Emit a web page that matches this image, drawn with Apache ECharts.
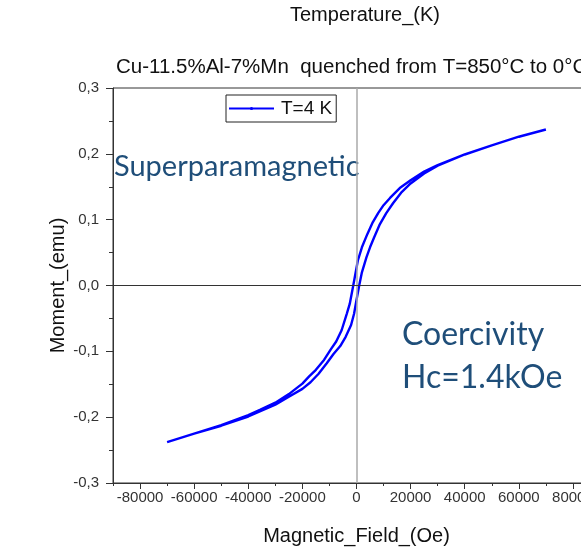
<!DOCTYPE html>
<html>
<head>
<meta charset="utf-8">
<script src="https://cdn.jsdelivr.net/npm/echarts@6/dist/echarts.min.js"></script>
<style>html,body{margin:0;padding:0;background:#fff;}#c{width:581px;height:547px;}</style>
</head>
<body>
<div id="c"></div>
<script>
// Descending branch (field from +70 kOe to -70 kOe)
const fieldDown  = [70000, 60000, 50000, 40000, 30000, 25000, 20000, 16000, 12400, 10000, 8000, 6000, 4000, 2000, 500, -1200, -2500, -3600, -5500, -7500, -9500, -12000, -15000, -17500, -20000, -25000, -30000, -35700, -40000, -50000, -60000, -70000];
const momentDown = [0.237, 0.226, 0.213, 0.199, 0.183, 0.173, 0.160, 0.148, 0.133, 0.122, 0.110, 0.096, 0.078, 0.058, 0.038, 0.0, -0.028, -0.043, -0.068, -0.085, -0.097, -0.113, -0.128, -0.138, -0.149, -0.165, -0.178, -0.189, -0.197, -0.212, -0.225, -0.238];
// Ascending branch (field from -70 kOe to +70 kOe)
const fieldUp  = [-70000, -60000, -50000, -40000, -30000, -25000, -20000, -17000, -14000, -11000, -8500, -6000, -4000, -2000, -900, 0, 1000, 2000, 3700, 5000, 6500, 8500, 11000, 13500, 16500, 20000, 25000, 30000, 40000, 50000, 60000, 70000];
const momentUp = [-0.238, -0.225, -0.213, -0.199, -0.181, -0.169, -0.157, -0.147, -0.134, -0.118, -0.104, -0.092, -0.078, -0.060, -0.043, -0.022, 0.0, 0.020, 0.043, 0.058, 0.073, 0.092, 0.110, 0.125, 0.141, 0.155, 0.170, 0.182, 0.199, 0.213, 0.226, 0.237];
const xTickLabels = [-80000, -60000, -40000, -20000, 0, 20000, 40000, 60000, 80000];
const seriesName = 'T=4 K';
const topTitle = 'Temperature_(K)';
const subTitle = 'Cu-11.5%Al-7%Mn  quenched from T=850°C to 0°C';
const xName = 'Magnetic_Field_(Oe)';
const yName = 'Moment_(emu)';
const note1 = 'Superparamagnetic';
const note2 = 'Coercivity';
const note3 = 'Hc=1.4kOe';

const loop = [];
fieldDown.forEach((f, i) => loop.push([f, momentDown[i]]));
fieldUp.forEach((f, i) => loop.push([f, momentUp[i]]));

const chart = echarts.init(document.getElementById('c'), null, {renderer: 'canvas'});
const gridL = 113, gridT = 88, gridW = 487, gridH = 395;
const arial = 'Liberation Sans, Arial, sans-serif';
const noteFont = 'Lato, Open Sans, sans-serif';
chart.setOption({
  animation: false,
  backgroundColor: '#fff',
  title: [
    {text: topTitle, left: 360, top: 0, textAlign: 'center',
     textStyle: {fontFamily: arial, fontSize: 20, fontWeight: 'normal', color: '#111'}},
    {text: subTitle, left: 111, top: 52,
     textStyle: {fontFamily: arial, fontSize: 20.5, fontWeight: 'normal', color: '#111'}}
  ],
  grid: {left: gridL, top: gridT, width: gridW, height: gridH, show: true, borderColor: '#333', borderWidth: 1, containLabel: false, outerBoundsMode: 'none'},
  legend: {
    left: 226, top: 95, padding: [4, 4, 4, 2], itemGap: 5,
    itemWidth: 45, itemHeight: 4,
    borderColor: '#222', borderWidth: 1, backgroundColor: '#fff',
    textStyle: {fontFamily: arial, fontSize: 19, color: '#111', padding: [0, 0, 0, 2]},
    data: [seriesName]
  },
  xAxis: [
    {type: 'value', min: -90000, max: 90000, position: 'bottom',
     name: xName, nameLocation: 'middle', nameGap: 43,
     nameTextStyle: {fontFamily: arial, fontSize: 20, color: '#111'},
     axisLine: {show: true, onZero: false, lineStyle: {color: '#333', width: 1}},
     axisTick: {show: true, inside: false, length: 6, customValues: xTickLabels, lineStyle: {color: '#333'}},
     axisLabel: {show: true, customValues: xTickLabels, margin: 7, fontFamily: arial, fontSize: 15, color: '#333',
       formatter: v => String(v)},
     splitLine: {show: false}},
    {type: 'value', min: -90000, max: 90000, interval: 10000, position: 'bottom',
     axisLine: {show: false, onZero: false},
     axisTick: {show: true, inside: false, length: 3, lineStyle: {color: '#333'}},
     axisLabel: {show: false}, splitLine: {show: false}}
  ],
  yAxis: {
    type: 'value', min: -0.3, max: 0.3, interval: 0.1,
    name: yName, nameLocation: 'middle', nameGap: 45, nameRotate: 90, nameMoveOverlap: false,
    nameTextStyle: {fontFamily: arial, fontSize: 20, color: '#111'},
    axisLine: {show: true, onZero: false, lineStyle: {color: '#333', width: 1}},
    axisTick: {show: true, inside: false, length: 7, lineStyle: {color: '#333'}},
    minorTick: {show: true, splitNumber: 2, length: 4, lineStyle: {color: '#333'}},
    axisLabel: {margin: 14, fontFamily: arial, fontSize: 15, color: '#333',
      formatter: v => v.toFixed(1).replace('.', ',')},
    splitLine: {show: false}
  },
  series: [{
    name: seriesName, type: 'line', xAxisIndex: 0,
    data: loop, symbol: 'circle', symbolSize: 3, showSymbol: false,
    smooth: false,
    lineStyle: {color: '#0000ff', width: 2.4},
    itemStyle: {color: '#0000ff'},
    z: 3,
    markLine: {
      silent: true, symbol: 'none', label: {show: false},
      data: [
        {xAxis: 0, lineStyle: {color: '#aaaaaa', width: 1.5, type: 'solid'}},
        {yAxis: 0, lineStyle: {color: '#333333', width: 1, type: 'solid'}}
      ]
    }
  }],
  graphic: [
    {type: 'text', left: 114, top: 152, style: {text: note1, font: '29px ' + noteFont, fill: '#1F4E79'}},
    {type: 'text', left: 402, top: 319, style: {text: note2, font: '32px ' + noteFont, fill: '#1F4E79'}},
    {type: 'text', left: 402, top: 362, style: {text: note3, font: '32px ' + noteFont, fill: '#1F4E79'}}
  ]
});
</script>
</body>
</html>
